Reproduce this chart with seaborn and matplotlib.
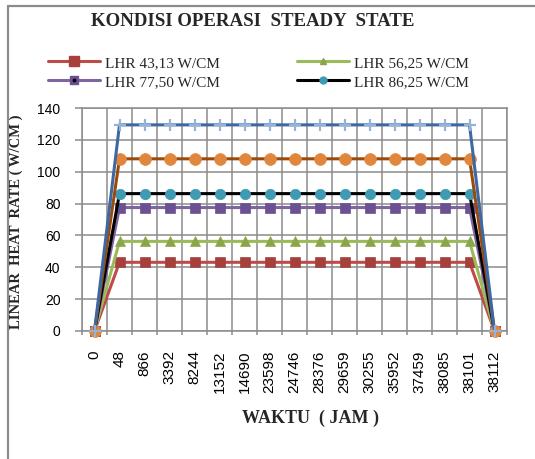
import numpy as np
import pandas as pd
import matplotlib
matplotlib.use("Agg")
import matplotlib.pyplot as plt
import seaborn as sns
from matplotlib.lines import Line2D
from matplotlib.legend_handler import HandlerTuple

# ---------------- data ----------------
waktu = ["0", "48", "866", "3392", "8244", "13152", "14690", "23598", "24746",
         "28376", "29659", "30255", "35952", "37459", "38085", "38101", "38112"]

lhr_43 = [0, 43.13, 43.13, 43.13, 43.13, 43.13, 43.13, 43.13, 43.13,
          43.13, 43.13, 43.13, 43.13, 43.13, 43.13, 43.13, 0]
lhr_56 = [0, 56.25, 56.25, 56.25, 56.25, 56.25, 56.25, 56.25, 56.25,
          56.25, 56.25, 56.25, 56.25, 56.25, 56.25, 56.25, 0]
lhr_77 = [0, 77.5, 77.5, 77.5, 77.5, 77.5, 77.5, 77.5, 77.5,
          77.5, 77.5, 77.5, 77.5, 77.5, 77.5, 77.5, 0]
lhr_86 = [0, 86.25, 86.25, 86.25, 86.25, 86.25, 86.25, 86.25, 86.25,
          86.25, 86.25, 86.25, 86.25, 86.25, 86.25, 86.25, 0]
lhr_108 = [0, 108.1, 108.1, 108.1, 108.1, 108.1, 108.1, 108.1, 108.1,
           108.1, 108.1, 108.1, 108.1, 108.1, 108.1, 108.1, 0]
lhr_129 = [0, 129.4, 129.4, 129.4, 129.4, 129.4, 129.4, 129.4, 129.4,
           129.4, 129.4, 129.4, 129.4, 129.4, 129.4, 129.4, 0]

legend_labels = ["LHR 43,13 W/CM", "LHR 56,25 W/CM", "LHR 77,50 W/CM", "LHR 86,25 W/CM"]

# ---------------- style ----------------
sns.set_theme(style="white")
plt.rcParams["font.family"] = ["Liberation Sans", "DejaVu Sans"]
serif = ["Liberation Serif", "DejaVu Serif"]
grid_c = "#8C8C8C"

fig = plt.figure(figsize=(5.35, 4.59), dpi=100)
fig.patch.set_facecolor("white")
ax = fig.add_axes([82 / 535, 1 - 331 / 459, 425 / 535, 223 / 459])
ax.set_facecolor("white")

pos = np.arange(len(waktu))

series = [
    (lhr_43, "#BE4B48", "s", "#A5403D", 6.5),
    (lhr_56, "#9BBB59", "^", "#8AA64B", 7.5),
    (lhr_77, "#7F64A2", "s", "#6B5192", 7.5),
    (lhr_86, "#000000", "o", "#3E9BB3", 7.5),
    (lhr_108, "#9C4A0C", "o", "#E0873D", 8.5),
    (lhr_129, "#3D68A3", "+", "#95B3D7", 8.0),
]

for i, (vals, lc, mk, mc, ms) in enumerate(series):
    df = pd.DataFrame({"x": pos, "y": vals})
    sns.lineplot(data=df, x="x", y="y", ax=ax, color=lc, linewidth=2.2,
                 marker=mk, markersize=ms, markerfacecolor=mc,
                 markeredgecolor=mc, markeredgewidth=1.6 if mk == "+" else 0.5,
                 clip_on=False, zorder=3 + i)

leg = ax.get_legend()
if leg is not None:
    leg.remove()

# ---------------- axes ----------------
ax.set_xlim(-0.5, len(waktu) - 0.5)
ax.set_ylim(0, 140)
ax.set_yticks(np.arange(0, 141, 20))
ax.set_xticks(pos)
ax.set_xticklabels(waktu, rotation=90)
ax.set_xticks(np.arange(-0.5, len(waktu), 1.0), minor=True)
ax.grid(False)
ax.grid(True, axis="y", which="major", color=grid_c, linewidth=1.1)
ax.grid(True, axis="x", which="minor", color=grid_c, linewidth=1.1)
ax.set_axisbelow(True)
for s in ax.spines.values():
    s.set_color(grid_c)
    s.set_linewidth(1.1)
ax.tick_params(axis="x", which="major", length=0, pad=14, labelsize=11,
               labelcolor="black")
ax.tick_params(axis="x", which="minor", length=3, width=1.1, color=grid_c,
               direction="out", bottom=True)
ax.tick_params(axis="y", which="major", length=5, width=1.1, color=grid_c,
               direction="out", left=True, pad=10.5, labelsize=10,
               labelcolor="black")
ax.set_xlabel("")
ax.set_ylabel("")

# ---------------- texts ----------------
fig.text(253 / 535, 1 - 22 / 459, "KONDISI OPERASI  STEADY  STATE",
         ha="center", va="center", fontsize=13.6, fontweight="bold", family=serif)
fig.text(311 / 535, 1 - 418 / 459, "WAKTU  ( JAM )", ha="center", va="center",
         fontsize=13, fontweight="bold", family=serif)
fig.text(16 / 535, 1 - 222 / 459, "LINEAR  HEAT  RATE ( W/CM )", ha="center",
         va="center", rotation=90, fontsize=10.5, fontweight="bold", family=serif)

# ---------------- legend ----------------
h_red = Line2D([], [], color="#BE4B48", lw=2.2, marker="s", ms=6.5,
               mfc="#A5403D", mec="#A5403D")
h_green = Line2D([], [], color="#9BBB59", lw=2.2, marker="^", ms=5,
                 mfc="#8AA64B", mec="#8AA64B")
h_purple = Line2D([], [], color="#7F64A2", lw=2.2, marker="s", ms=6,
                  mfc="#6B5192", mec="#6B5192")
h_dot = Line2D([], [], ls="none", marker="o", ms=1.8, mfc="black", mec="black")
h_black = Line2D([], [], color="black", lw=2.2, marker="o", ms=5,
                 mfc="#3E9BB3", mec="#3E9BB3")
# ncol=2 fills column-wise: order so rows read red/green, purple/black
fig.legend([h_red, (h_purple, h_dot), h_green, h_black],
           [legend_labels[0], legend_labels[2], legend_labels[1], legend_labels[3]],
           handler_map={tuple: HandlerTuple(ndivide=1)},
           loc="upper left", bbox_to_anchor=(48 / 535, 1 - 56 / 459),
           ncol=2, frameon=False, prop={"family": serif, "size": 11},
           handlelength=3.4, handletextpad=0.35, columnspacing=5.0,
           labelspacing=0.35, borderpad=0, borderaxespad=0)

# ---------------- chart border ----------------
fig.add_artist(Line2D([8 / 535, 8 / 535], [0, 1 - 6 / 459], transform=fig.transFigure,
                      color=grid_c, lw=1.6))
fig.add_artist(Line2D([8 / 535, 1], [1 - 6 / 459, 1 - 6 / 459], transform=fig.transFigure,
                      color=grid_c, lw=1.6))

fig.savefig("out.png", dpi=100, facecolor="white")
